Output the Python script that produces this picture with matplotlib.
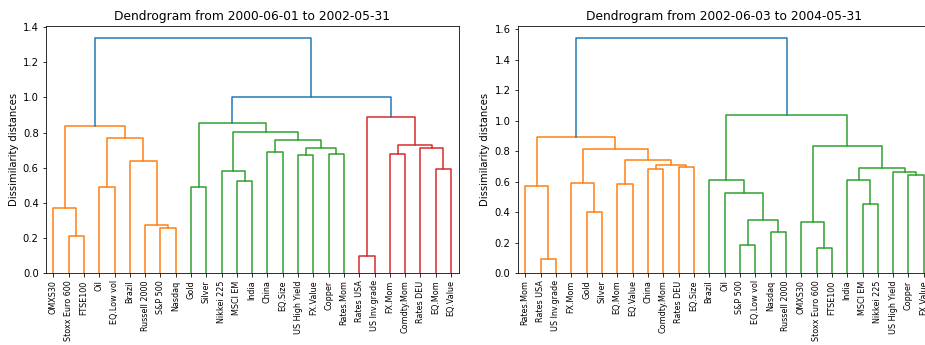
import numpy as np
import matplotlib.pyplot as plt

# leaf order as shown on each dendrogram
leaves_a = ['OMXS30', 'Stoxx Euro 600', 'FTSE100', 'Oil', 'EQ.Low vol', 'Brazil',
            'Russell 2000', 'S&P 500', 'Nasdaq', 'Gold', 'Silver', 'Nikkei 225',
            'MSCI EM', 'India', 'China', 'EQ.Size', 'US High Yield', 'FX.Value',
            'Copper', 'Rates.Mom', 'Rates USA', 'US Inv.grade', 'FX.Mom',
            'Comdty.Mom', 'Rates DEU', 'EQ.Mom', 'EQ.Value']
leaves_b = ['Rates.Mom', 'Rates USA', 'US Inv.grade', 'FX.Mom', 'Gold', 'Silver',
            'EQ.Mom', 'EQ.Value', 'China', 'Comdty.Mom', 'Rates DEU', 'EQ.Size',
            'Brazil', 'Oil', 'S&P 500', 'EQ.Low vol', 'Nasdaq', 'Russell 2000',
            'OMXS30', 'Stoxx Euro 600', 'FTSE100', 'India', 'MSCI EM', 'Nikkei 225',
            'US High Yield', 'Copper', 'FX.Value']

# merges: (left, right, height); str = leaf, int = earlier merge
merges_a = [
    ('Stoxx Euro 600', 'FTSE100', 0.214),
    ('OMXS30', 0, 0.370),
    ('Oil', 'EQ.Low vol', 0.493),
    ('S&P 500', 'Nasdaq', 0.256),
    ('Russell 2000', 3, 0.275),
    ('Brazil', 4, 0.641),
    (2, 5, 0.772),
    (1, 6, 0.835),
    ('Gold', 'Silver', 0.493),
    ('MSCI EM', 'India', 0.522),
    ('Nikkei 225', 9, 0.584),
    ('China', 'EQ.Size', 0.691),
    ('US High Yield', 'FX.Value', 0.672),
    ('Copper', 'Rates.Mom', 0.679),
    (12, 13, 0.713),
    (11, 14, 0.755),
    (10, 15, 0.801),
    (8, 16, 0.854),
    ('Rates USA', 'US Inv.grade', 0.099),
    ('EQ.Mom', 'EQ.Value', 0.594),
    ('Rates DEU', 19, 0.710),
    ('FX.Mom', 'Comdty.Mom', 0.677),
    (21, 20, 0.727),
    (18, 22, 0.888),
    (17, 23, 1.000),
    (7, 24, 1.339),
]
merges_b = [
    ('Rates USA', 'US Inv.grade', 0.092),
    ('Rates.Mom', 0, 0.575),
    ('Gold', 'Silver', 0.403),
    ('FX.Mom', 2, 0.593),
    ('EQ.Mom', 'EQ.Value', 0.584),
    ('China', 'Comdty.Mom', 0.687),
    ('Rates DEU', 'EQ.Size', 0.698),
    (5, 6, 0.709),
    (4, 7, 0.746),
    (3, 8, 0.816),
    (1, 9, 0.897),
    ('S&P 500', 'EQ.Low vol', 0.188),
    ('Nasdaq', 'Russell 2000', 0.269),
    (11, 12, 0.352),
    ('Oil', 13, 0.530),
    ('Brazil', 14, 0.615),
    ('Stoxx Euro 600', 'FTSE100', 0.166),
    ('OMXS30', 16, 0.335),
    ('MSCI EM', 'Nikkei 225', 0.457),
    ('India', 18, 0.615),
    ('Copper', 'FX.Value', 0.646),
    ('US High Yield', 20, 0.667),
    (19, 21, 0.694),
    (17, 22, 0.836),
    (15, 23, 1.037),
    (10, 24, 1.545),
]

titles = ['Dendrogram from 2000-06-01 to 2002-05-31',
          'Dendrogram from 2002-06-03 to 2004-05-31']


def node_xy(node, leaves, merges):
    if isinstance(node, str):
        return 5 + 10 * leaves.index(node), 0.0
    a, b, h = merges[node]
    xa = node_xy(a, leaves, merges)[0]
    xb = node_xy(b, leaves, merges)[0]
    return (xa + xb) / 2, h


def dendrogram(ax, leaves, merges, title):
    root = len(merges) - 1
    threshold = 0.7 * merges[root][2]
    colors = {}
    count = [0]

    # same colouring rule as scipy: clusters below 70% of max height
    def paint(node, color):
        if isinstance(node, str):
            return
        a, b, h = merges[node]
        if color is None and h < threshold:
            count[0] += 1
            color = 'C%d' % count[0]
        colors[node] = color if color else 'C0'
        paint(a, color)
        paint(b, color)

    paint(root, None)

    for i, (a, b, h) in enumerate(merges):
        xa, ha = node_xy(a, leaves, merges)
        xb, hb = node_xy(b, leaves, merges)
        ax.plot([xa, xa, xb, xb], [ha, h, h, hb], color=colors[i], lw=1.5)

    n = len(leaves)
    ax.set_xticks(5 + 10 * np.arange(n))
    ax.set_xticklabels(leaves, rotation=90, fontsize=8)
    ax.set_xlim(0, 10 * n)
    ax.set_ylim(0, merges[root][2] * 1.05)
    ax.set_title(title, fontsize=12.3)
    ax.set_ylabel('Dissimilarity distances', fontsize=10)


fig = plt.figure(figsize=(925 / 72, 345 / 72), dpi=72)
ax1 = fig.add_axes([45.7 / 925, 71.7 / 345, 413 / 925, 247.3 / 345])
ax2 = fig.add_axes([517.5 / 925, 71.7 / 345, 414 / 925, 247.3 / 345])

dendrogram(ax1, leaves_a, merges_a, titles[0])
dendrogram(ax2, leaves_b, merges_b, titles[1])

fig.savefig('out.png', dpi=72)
